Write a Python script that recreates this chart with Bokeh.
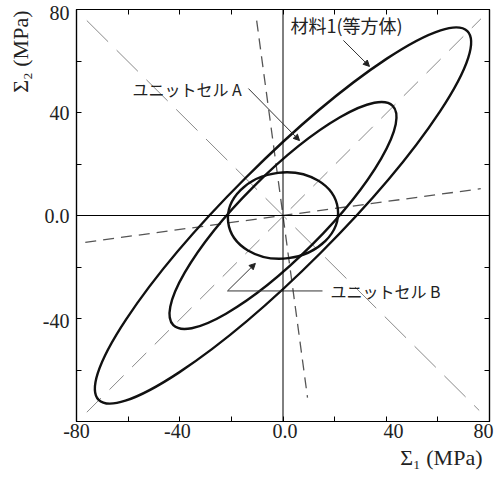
import math
from bokeh.plotting import figure
from bokeh.models import (Range1d, FixedTicker, LinearAxis, Span, Label, Arrow,
                          NormalHead, ColumnDataSource, Title)
from bokeh.embed import file_html
from bokeh.resources import INLINE

# ---------------- data ----------------
axis_min, axis_max = -80, 80
tick_marks = [-80, -60, -40, -20, 0, 20, 40, 60, 80]
# tick-label texts and where they sit along each axis (as printed in the figure)
x_tick_texts = ["-80", "-40", "0.0", "40", "80"]
x_tick_label_pos = [-80.0, -40.9, 0.8, 42.8, 77.7]
y_tick_texts = ["-40", "0.0", "40", "80"]
y_tick_label_pos = [-41.0, 0.0, 40.0, 78.8]

x_title = "Σ₁ (MPa)"
y_title = "Σ₂ (MPa)"

# yield-surface ellipses (centre, semi-axes in MPa, rotation in degrees)
ellipse_names = ["材料1(等方体)", "ユニットセル A", "ユニットセル B"]
ellipse_cx = [0.0, 0.0, 0.0]
ellipse_cy = [0.0, 0.0, 0.0]
ellipse_semi_major = [101.0, 60.1, 21.4]
ellipse_semi_minor = [20.6, 16.0, 16.7]
ellipse_angle_deg = [45.0, 45.0, 7.0]

# thin grey long-dash guides: diagonal and anti-diagonal
diag_x0, diag_y0, diag_x1, diag_y1 = [-76.0], [-76.4], [76.7], [76.4]
anti_x0, anti_y0, anti_x1, anti_y1 = [-76.0], [75.7], [76.0], [-75.7]

# short-dash principal-axis guides of unit cell B
axisB_x0 = [-76.6, -10.2]
axisB_y0 = [-10.4, 75.7]
axisB_x1 = [76.6, 9.5]
axisB_y1 = [10.4, -70.7]

# annotation texts and leader arrows
label_texts = ["材料1(等方体)", "ユニットセル A", "ユニットセル B"]
label_x = [2.9, -58.3, 18.4]
label_y = [73.8, 49.1, -29.5]
label_size = ["18px", "16px", "16px"]

arrow_x0 = [23.4, -13.4, -21.5]
arrow_y0 = [68.0, 49.3, -29.3]
arrow_x1 = [33.5, 6.4, -10.7]
arrow_y1 = [57.9, 29.1, -18.6]

leaderB_x = [15.3, -21.5]
leaderB_y = [-29.3, -29.3]

# ---------------- figure ----------------
p = figure(frame_width=413, frame_height=412,
           x_range=Range1d(axis_min, axis_max), y_range=Range1d(axis_min, axis_max),
           output_backend="svg", toolbar_location=None,
           min_border_left=74, min_border_right=13, min_border_top=9, min_border_bottom=57,
           background_fill_color="white", border_fill_color="white",
           outline_line_color="black", outline_line_width=1.2)
p.grid.visible = False

SERIF = "Liberation Serif"
CJK_FONT = "Noto Sans CJK JP"
TXT = "#222222"


def style_axis(ax, label_pos, label_texts_, standoff):
    ax.ticker = FixedTicker(ticks=label_pos if label_pos else [], minor_ticks=tick_marks)
    ax.axis_line_color = "black"
    ax.axis_line_width = 1.2
    ax.major_tick_in = 0
    ax.major_tick_out = 0
    ax.minor_tick_in = 5
    ax.minor_tick_out = 0
    ax.minor_tick_line_color = "black"
    ax.minor_tick_line_width = 1
    ax.major_label_standoff = standoff
    if label_pos:
        ax.major_label_overrides = {pos: t for pos, t in zip(label_pos, label_texts_)}
        ax.major_label_text_font = SERIF
        ax.major_label_text_font_size = "20px"
        ax.major_label_text_color = TXT
    else:
        ax.major_label_text_font_size = "1px"
        ax.major_label_text_alpha = 0


style_axis(p.xaxis[0], x_tick_label_pos, x_tick_texts, 2)
style_axis(p.yaxis[0], y_tick_label_pos, y_tick_texts, 7)

ax_r = LinearAxis()
style_axis(ax_r, None, None, 0)
p.add_layout(ax_r, "right")
ax_t = LinearAxis()
style_axis(ax_t, None, None, 0)
p.add_layout(ax_t, "above")

# axis titles
p.add_layout(Title(text=x_title, align="right", offset=7, standoff=6,
                   vertical_align="middle", text_font=SERIF, text_font_size="22px",
                   text_font_style="normal", text_color=TXT), "below")
p.add_layout(Title(text=y_title, align="right", offset=1, standoff=12,
                   vertical_align="middle", text_font=SERIF, text_font_size="22px",
                   text_font_style="normal", text_color=TXT), "left")

# zero lines
p.add_layout(Span(location=0, dimension="width", line_color="black", line_width=1))
p.add_layout(Span(location=0, dimension="height", line_color="black", line_width=1))

# guide lines
p.segment(x0=diag_x0, y0=diag_y0, x1=diag_x1, y1=diag_y1,
          line_color="#8a8a8a", line_width=1, line_dash="20 12")
p.segment(x0=anti_x0, y0=anti_y0, x1=anti_x1, y1=anti_y1,
          line_color="#8a8a8a", line_width=1, line_dash="30 12")
p.segment(x0=axisB_x0, y0=axisB_y0, x1=axisB_x1, y1=axisB_y1,
          line_color="#555555", line_width=1.3, line_dash="11 7")

# ellipses
src = ColumnDataSource(dict(
    x=ellipse_cx, y=ellipse_cy,
    w=[2 * a for a in ellipse_semi_major],
    h=[2 * b for b in ellipse_semi_minor],
    ang=[math.radians(t) for t in ellipse_angle_deg],
    name=ellipse_names))
p.ellipse(x="x", y="y", width="w", height="h", angle="ang", source=src,
          fill_color=None, line_color="#111111", line_width=2.4)

# leader lines and arrows
p.line(x=leaderB_x, y=leaderB_y, line_color="#333333", line_width=1)
for x0, y0, x1, y1 in zip(arrow_x0, arrow_y0, arrow_x1, arrow_y1):
    p.add_layout(Arrow(x_start=x0, y_start=y0, x_end=x1, y_end=y1,
                       line_color="#333333", line_width=1,
                       end=NormalHead(size=6, fill_color="#222222", line_color="#222222")))

for t, x, y, s in zip(label_texts, label_x, label_y, label_size):
    p.add_layout(Label(x=x, y=y, text=t, text_align="left", text_baseline="middle",
                       text_font=CJK_FONT, text_font_size=s, text_color=TXT))

open("out.html", "w").write(file_html(p, INLINE))
